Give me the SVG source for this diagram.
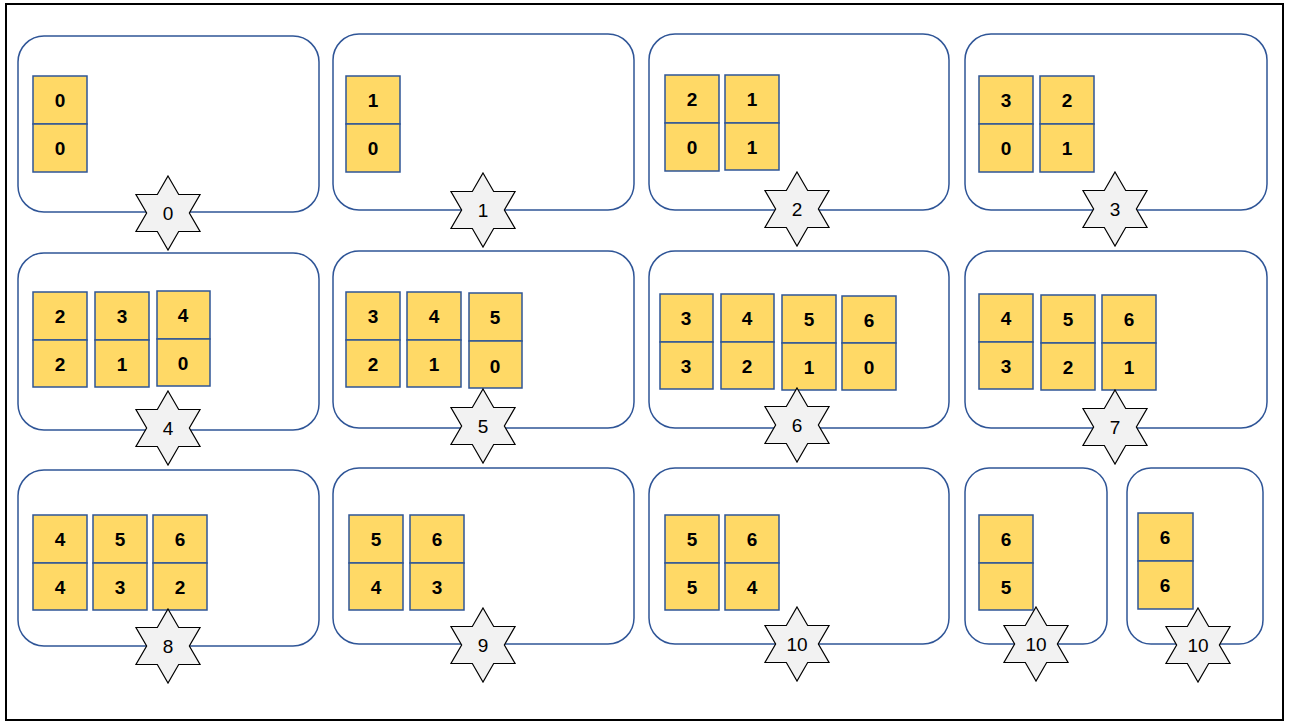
<svg xmlns="http://www.w3.org/2000/svg" xmlns:xlink="http://www.w3.org/1999/xlink" width="1290" height="722" viewBox="0 0 1290 722">
<style>
.panel{fill:#fff;stroke:#2F5597;stroke-width:1.5}
.t{fill:#FFD966;stroke:#2F5597;stroke-width:1.5}
.n{font-family:"Liberation Sans",Arial,sans-serif;font-weight:bold;font-size:19px;text-anchor:middle;fill:#000}
.s{fill:#F2F2F2;stroke:#000;stroke-width:1.2}
.sl{font-family:"Liberation Sans",Arial,sans-serif;font-size:19px;text-anchor:middle;fill:#000}
</style>
<defs>
<path id="star" d="M0,-37 L10.68,-18.5 L32.04,-18.5 L21.36,0 L32.04,18.5 L10.68,18.5 L0,37 L-10.68,18.5 L-32.04,18.5 L-21.36,0 L-32.04,-18.5 L-10.68,-18.5 Z"/>
</defs>
<rect x="0" y="0" width="1290" height="722" fill="#fff"/>
<rect x="6" y="4" width="1277" height="716" fill="none" stroke="#000" stroke-width="2"/>

<g id="connectors"></g>

<g id="panel0">
<rect class="panel" x="18" y="36" width="301" height="176" rx="26"/>
<rect class="t" x="33" y="76" width="54" height="48"/><rect class="t" x="33" y="124" width="54" height="48"/>
<text class="n" x="60" y="107">0</text><text class="n" x="60" y="155">0</text>
<use href="#star" class="s" x="168" y="213"/><text class="sl" x="168" y="220">0</text>
</g>

<g id="panel1">
<rect class="panel" x="333" y="34" width="301" height="176" rx="26"/>
<rect class="t" x="346" y="76" width="54" height="48"/><rect class="t" x="346" y="124" width="54" height="48"/>
<text class="n" x="373" y="107">1</text><text class="n" x="373" y="155">0</text>
<use href="#star" class="s" x="483" y="210"/><text class="sl" x="483" y="217">1</text>
</g>

<g id="panel2">
<rect class="panel" x="649" y="34" width="300" height="176" rx="26"/>
<rect class="t" x="665" y="75" width="54" height="48"/><rect class="t" x="665" y="123" width="54" height="48"/>
<text class="n" x="692" y="106">2</text><text class="n" x="692" y="154">0</text>
<rect class="t" x="725" y="75" width="54" height="48"/><rect class="t" x="725" y="123" width="54" height="47"/>
<text class="n" x="752" y="106">1</text><text class="n" x="752" y="154">1</text>
<use href="#star" class="s" x="797" y="209"/><text class="sl" x="797" y="216">2</text>
</g>

<g id="panel3">
<rect class="panel" x="965" y="34" width="302" height="176" rx="26"/>
<rect class="t" x="979" y="76" width="54" height="48"/><rect class="t" x="979" y="124" width="54" height="48"/>
<text class="n" x="1006" y="107">3</text><text class="n" x="1006" y="155">0</text>
<rect class="t" x="1040" y="76" width="54" height="48"/><rect class="t" x="1040" y="124" width="54" height="48"/>
<text class="n" x="1067" y="107">2</text><text class="n" x="1067" y="155">1</text>
<use href="#star" class="s" x="1115" y="209"/><text class="sl" x="1115" y="216">3</text>
</g>

<g id="panel4">
<rect class="panel" x="18" y="253" width="301" height="177" rx="26"/>
<rect class="t" x="33" y="292" width="54" height="48"/><rect class="t" x="33" y="340" width="54" height="47"/>
<text class="n" x="60" y="323">2</text><text class="n" x="60" y="371">2</text>
<rect class="t" x="95" y="292" width="54" height="48"/><rect class="t" x="95" y="340" width="54" height="47"/>
<text class="n" x="122" y="323">3</text><text class="n" x="122" y="371">1</text>
<rect class="t" x="157" y="291" width="53" height="48"/><rect class="t" x="157" y="339" width="53" height="47"/>
<text class="n" x="183" y="322">4</text><text class="n" x="183" y="370">0</text>
<use href="#star" class="s" x="168" y="428"/><text class="sl" x="168" y="435">4</text>
</g>

<g id="panel5">
<rect class="panel" x="333" y="251" width="301" height="177" rx="26"/>
<rect class="t" x="346" y="292" width="54" height="48"/><rect class="t" x="346" y="340" width="54" height="47"/>
<text class="n" x="373" y="323">3</text><text class="n" x="373" y="371">2</text>
<rect class="t" x="407" y="292" width="54" height="48"/><rect class="t" x="407" y="340" width="54" height="47"/>
<text class="n" x="434" y="323">4</text><text class="n" x="434" y="371">1</text>
<rect class="t" x="469" y="293" width="53" height="48"/><rect class="t" x="469" y="341" width="53" height="47"/>
<text class="n" x="495" y="324">5</text><text class="n" x="495" y="373">0</text>
<use href="#star" class="s" x="483" y="426"/><text class="sl" x="483" y="433">5</text>
</g>

<g id="panel6">
<rect class="panel" x="649" y="251" width="300" height="177" rx="26"/>
<rect class="t" x="660" y="294" width="53" height="48"/><rect class="t" x="660" y="342" width="53" height="47"/>
<text class="n" x="686" y="325">3</text><text class="n" x="686" y="373">3</text>
<rect class="t" x="721" y="294" width="53" height="48"/><rect class="t" x="721" y="342" width="53" height="47"/>
<text class="n" x="747" y="325">4</text><text class="n" x="747" y="373">2</text>
<rect class="t" x="782" y="295" width="54" height="48"/><rect class="t" x="782" y="343" width="54" height="47"/>
<text class="n" x="809" y="326">5</text><text class="n" x="809" y="374">1</text>
<rect class="t" x="842" y="296" width="54" height="47"/><rect class="t" x="842" y="343" width="54" height="47"/>
<text class="n" x="869" y="327">6</text><text class="n" x="869" y="374">0</text>
<use href="#star" class="s" x="797" y="425"/><text class="sl" x="797" y="432">6</text>
</g>

<g id="panel7">
<rect class="panel" x="965" y="251" width="302" height="177" rx="26"/>
<rect class="t" x="979" y="294" width="54" height="48"/><rect class="t" x="979" y="342" width="54" height="47"/>
<text class="n" x="1006" y="325">4</text><text class="n" x="1006" y="373">3</text>
<rect class="t" x="1041" y="295" width="54" height="48"/><rect class="t" x="1041" y="343" width="54" height="47"/>
<text class="n" x="1068" y="326">5</text><text class="n" x="1068" y="374">2</text>
<rect class="t" x="1102" y="295" width="54" height="48"/><rect class="t" x="1102" y="343" width="54" height="47"/>
<text class="n" x="1129" y="326">6</text><text class="n" x="1129" y="374">1</text>
<use href="#star" class="s" x="1115" y="427"/><text class="sl" x="1115" y="434">7</text>
</g>

<g id="panel8">
<rect class="panel" x="18" y="470" width="301" height="176" rx="26"/>
<rect class="t" x="33" y="515" width="54" height="48"/><rect class="t" x="33" y="563" width="54" height="47"/>
<text class="n" x="60" y="546">4</text><text class="n" x="60" y="594">4</text>
<rect class="t" x="93" y="515" width="54" height="48"/><rect class="t" x="93" y="563" width="54" height="47"/>
<text class="n" x="120" y="546">5</text><text class="n" x="120" y="594">3</text>
<rect class="t" x="153" y="515" width="54" height="48"/><rect class="t" x="153" y="563" width="54" height="47"/>
<text class="n" x="180" y="546">6</text><text class="n" x="180" y="594">2</text>
<use href="#star" class="s" x="168" y="646"/><text class="sl" x="168" y="653">8</text>
</g>

<g id="panel9">
<rect class="panel" x="333" y="468" width="301" height="176" rx="26"/>
<rect class="t" x="349" y="515" width="54" height="48"/><rect class="t" x="349" y="563" width="54" height="47"/>
<text class="n" x="376" y="546">5</text><text class="n" x="376" y="594">4</text>
<rect class="t" x="410" y="515" width="54" height="48"/><rect class="t" x="410" y="563" width="54" height="47"/>
<text class="n" x="437" y="546">6</text><text class="n" x="437" y="594">3</text>
<use href="#star" class="s" x="483" y="645"/><text class="sl" x="483" y="652">9</text>
</g>

<g id="panel10">
<rect class="panel" x="649" y="468" width="300" height="176" rx="26"/>
<rect class="t" x="665" y="515" width="54" height="48"/><rect class="t" x="665" y="563" width="54" height="47"/>
<text class="n" x="692" y="546">5</text><text class="n" x="692" y="594">5</text>
<rect class="t" x="725" y="515" width="54" height="48"/><rect class="t" x="725" y="563" width="54" height="47"/>
<text class="n" x="752" y="546">6</text><text class="n" x="752" y="594">4</text>
<use href="#star" class="s" x="797" y="644"/><text class="sl" x="797" y="651">10</text>
</g>

<g id="panel11">
<rect class="panel" x="965" y="468" width="142" height="176" rx="24"/>
<rect class="t" x="979" y="515" width="54" height="48"/><rect class="t" x="979" y="563" width="54" height="47"/>
<text class="n" x="1006" y="546">6</text><text class="n" x="1006" y="594">5</text>
<use href="#star" class="s" x="1036" y="644"/><text class="sl" x="1036" y="651">10</text>
</g>

<g id="panel12">
<rect class="panel" x="1127" y="468" width="136" height="176" rx="24"/>
<rect class="t" x="1138" y="513" width="55" height="48"/><rect class="t" x="1138" y="561" width="55" height="48"/>
<text class="n" x="1165" y="544">6</text><text class="n" x="1165" y="592">6</text>
<use href="#star" class="s" x="1198" y="645"/><text class="sl" x="1198" y="652">10</text>
</g>
</svg>
